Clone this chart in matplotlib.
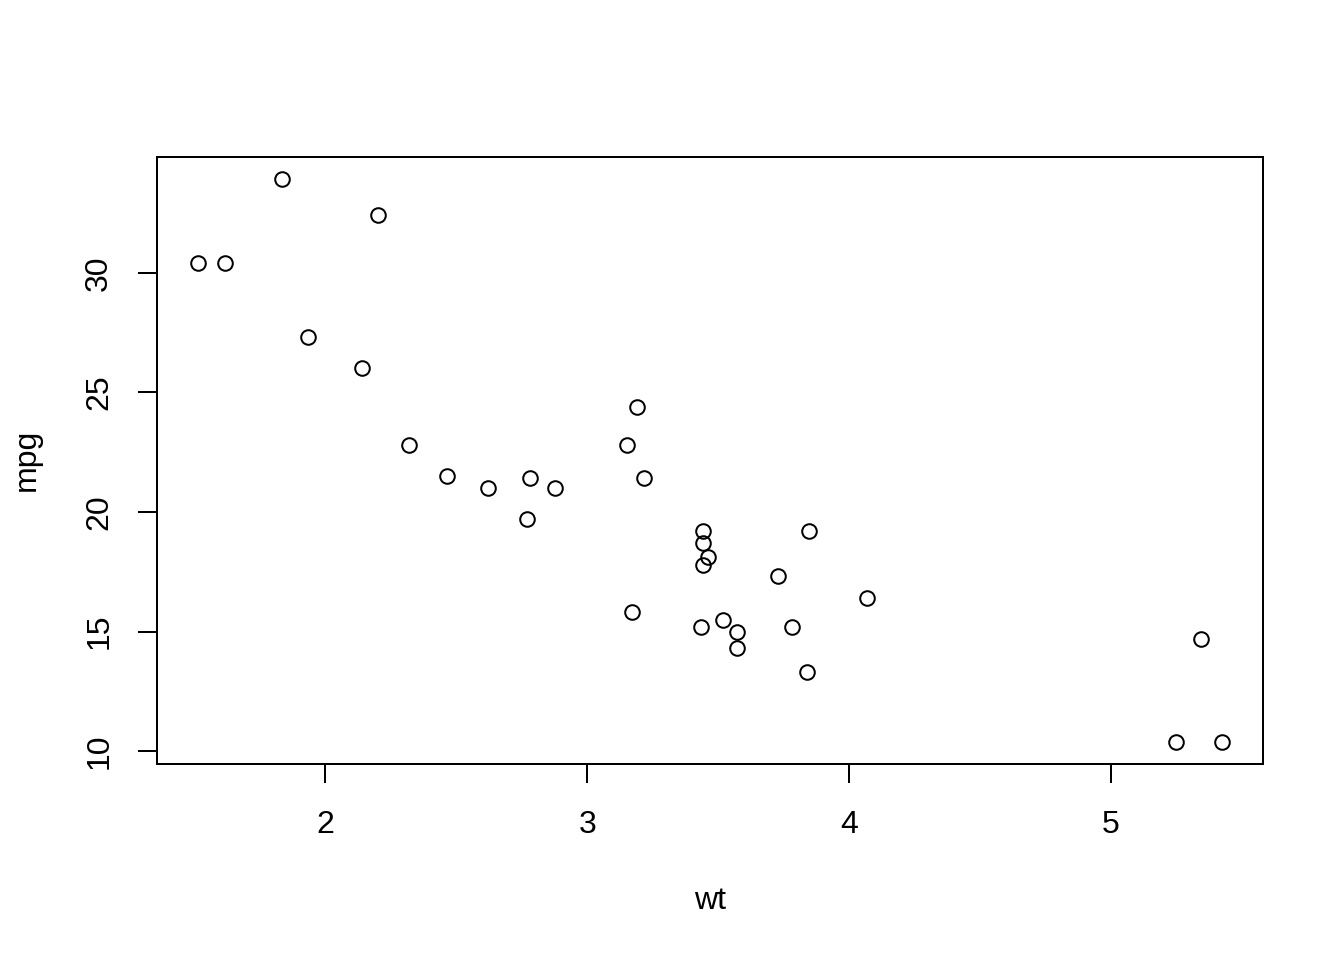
import matplotlib
matplotlib.use("Agg")
import matplotlib.pyplot as plt

wt = [2.620, 2.875, 2.320, 3.215, 3.440, 3.460, 3.570, 3.190, 3.150, 3.440,
      3.440, 4.070, 3.730, 3.780, 5.250, 5.424, 5.345, 2.200, 1.615, 1.835,
      2.465, 3.520, 3.435, 3.840, 3.845, 1.935, 2.140, 1.513, 3.170, 2.770,
      3.570, 2.780]
mpg = [21.0, 21.0, 22.8, 21.4, 18.7, 18.1, 14.3, 24.4, 22.8, 19.2,
       17.8, 16.4, 17.3, 15.2, 10.4, 10.4, 14.7, 32.4, 30.4, 33.9,
       21.5, 15.5, 15.2, 13.3, 19.2, 27.3, 26.0, 30.4, 15.8, 19.7,
       15.0, 21.4]
xticks = [2, 3, 4, 5]
yticks = [10, 15, 20, 25, 30]

plt.rcParams['font.family'] = ['Liberation Sans', 'DejaVu Sans']
W, H = 1344, 960
fig = plt.figure(figsize=(W / 100, H / 100), dpi=100)
ax = fig.add_axes([157 / W, 1 - 764 / H, (1263 - 157) / W, (764 - 157) / H])

lw = 1.44
ax.plot(wt, mpg, linestyle='none', marker='o', markersize=10.5,
        markerfacecolor='none', markeredgecolor='black', markeredgewidth=lw)

def rlim(v):
    lo, hi = min(v), max(v)
    d = (hi - lo) * 0.04
    return lo - d, hi + d

ax.set_xlim(*rlim(wt))
ax.set_ylim(*rlim(mpg))
ax.set_xticks(xticks)
ax.set_yticks(yticks)
ax.set_xticklabels([str(t) for t in xticks])
ax.set_yticklabels([str(t) for t in yticks], rotation=90, va='center')
for s in ax.spines.values():
    s.set_linewidth(lw)
ax.tick_params(axis='both', direction='out', length=13.8, width=lw,
               labelsize=23, pad=19)
ax.tick_params(axis='y', pad=17)

fig.text(710 / W, 1 - 901 / H, 'wt', ha='center', va='center', fontsize=23)
fig.text(27 / W, 1 - 460 / H, 'mpg', ha='center', va='center', fontsize=23,
         rotation=90)

fig.savefig('out.png', dpi=100)
